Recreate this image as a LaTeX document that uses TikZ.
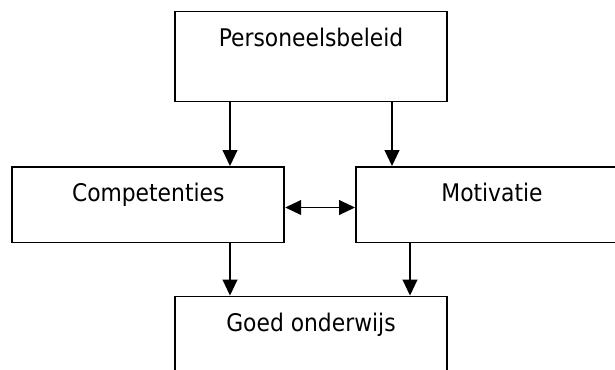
\documentclass[tikz,border=0pt]{standalone}
\usepackage{fontspec}
\setmainfont{DejaVu Sans Condensed}
\usetikzlibrary{arrows.meta}
\def\u{0.75pt}
\tikzset{
  box/.style={draw=black, line width=1.4pt, rectangle, minimum width=272*\u, inner sep=0pt, fill=white},
  lbl/.style={anchor=base, inner sep=0pt, font=\fontsize{18.2pt}{21pt}\selectfont},
  arr/.style={line width=1.4pt, -{Triangle[length=12pt, width=11pt]}},
  darr/.style={line width=1.4pt, {Triangle[length=12pt, width=11pt]}-{Triangle[length=12pt, width=11pt]}}
}
\begin{document}
\begin{tikzpicture}[x=0.75pt, y=-0.75pt]
\useasboundingbox (0,0) rectangle (615,369);
\clip (0,0) rectangle (615,369);
\node[box, minimum height=90*\u] (pb) at (311,56.5) {};
\node[box, minimum height=75.5*\u] (comp) at (148.25,204.75) {};
\node[box, minimum height=75.5*\u] (mot) at (492,204.75) {};
\node[box, minimum height=110*\u] (go) at (311,351.5) {};
\node[lbl] (tpb) at ([yshift=-35.5*\u]pb.north) {Personeelsbeleid};
\node[lbl] (tcomp) at ([yshift=-35.5*\u]comp.north) {Competenties};
\node[lbl] (tmot) at ([yshift=-35.5*\u]mot.north) {Motivatie};
\node[lbl] (tgo) at ([yshift=-35.5*\u]go.north) {Goed onderwijs};
\coordinate (xa) at (230,0);
\coordinate (xb) at (392,0);
\coordinate (xc) at (410,0);
\coordinate (ym) at (0,207.5);
\draw[arr] (pb.south -| xa) -- (comp.north -| xa);
\draw[arr] (pb.south -| xb) -- (mot.north -| xb);
\draw[arr] (comp.south -| xa) -- (go.north -| xa);
\draw[arr] (mot.south -| xc) -- (go.north -| xc);
\draw[darr] (comp.east |- ym) -- (mot.west |- ym);
\end{tikzpicture}
\end{document}
